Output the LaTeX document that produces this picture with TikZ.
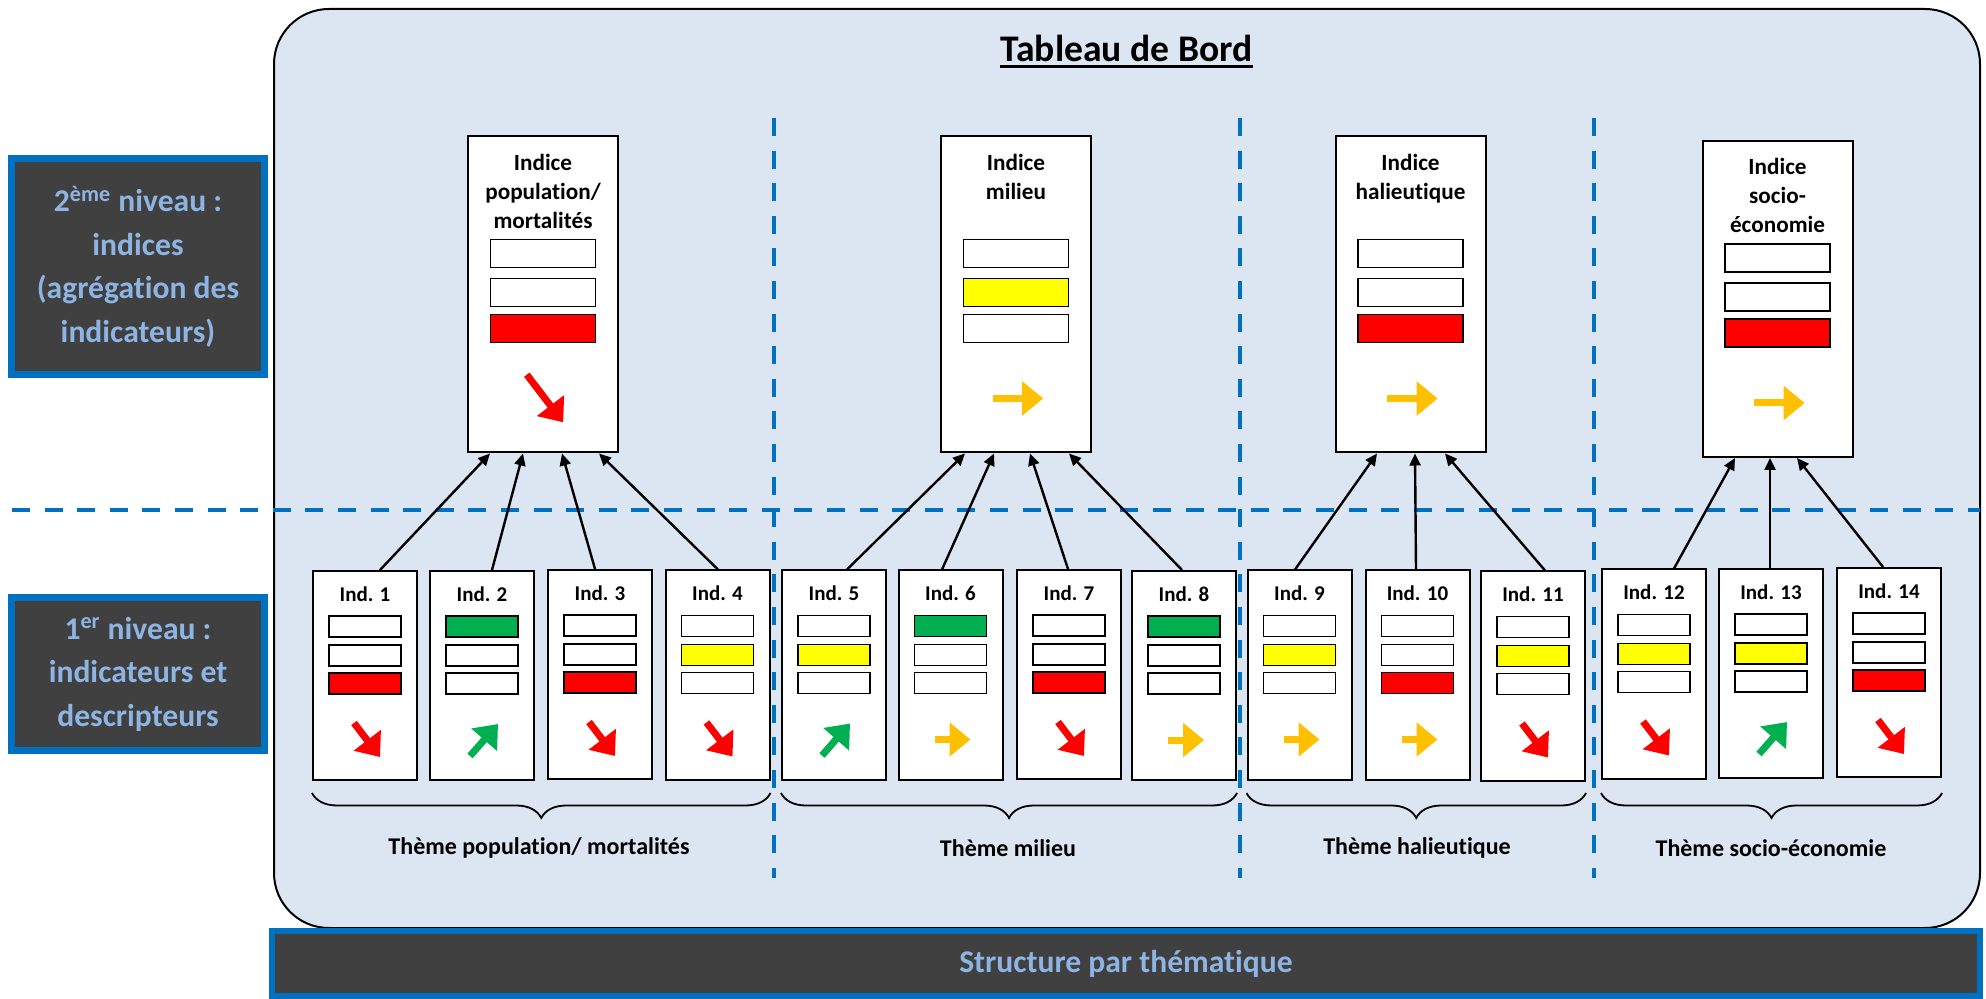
\documentclass[tikz,border=0pt]{standalone}
\usepackage{fontspec}
\setmainfont{Carlito}[Ligatures=NoCommon]
\usetikzlibrary{arrows.meta,calc,decorations.pathreplacing}

\definecolor{panel}{HTML}{DCE6F2}
\definecolor{frameblue}{HTML}{0070C0}
\definecolor{darkfill}{HTML}{404040}
\definecolor{paletxt}{HTML}{8DB4E2}
\definecolor{tred}{HTML}{FF0000}
\definecolor{tgreen}{HTML}{00B050}
\definecolor{torange}{HTML}{FFC000}
\definecolor{tyellow}{HTML}{FFFF00}

% one indicator card: name, x, y, label, bar colours (top, middle, bottom), trend pic
\newcommand\indcard[8]{%
  \node[indcard] (#1) at (#2,#3) {};
  \node[indlabel] (#1t) at ($(#1.north)+(0,24)$) {#4};
  \node[sbar, fill=#5] (#1a) at ($(#1.north)+(0,56.5)$) {};
  \node[sbar, fill=#6] (#1b) at ($(#1.north)+(0,85.5)$) {};
  \node[sbar, fill=#7] (#1c) at ($(#1.north)+(0,113.5)$) {};
  \pic at ($(#1.south)+(2,-41)$) {#8};
}
% one index card: name, x, y, label, bar colours, trend pic
\newcommand\idxcard[8]{%
  \node[idxcard] (#1) at (#2,#3) {};
  \node[idxlabel] (#1t) at ($(#1.north)+(0,18)$) {#4};
  \node[lbar, fill=#5] (#1a) at ($(#1.north)+(0,118)$) {};
  \node[lbar, fill=#6] (#1b) at ($(#1.north)+(0,157)$) {};
  \node[lbar, fill=#7] (#1c) at ($(#1.north)+(0,193)$) {};
  \pic[scale=1.4] at ($(#1.south)+(2,-55)$) {#8};
}

\begin{document}
\begin{tikzpicture}[x=0.5pt,y=-0.5pt,
  indcard/.style={draw, line width=1pt, fill=white, minimum width=52pt, minimum height=104.5pt, inner sep=0pt},
  idxcard/.style={draw, line width=1pt, fill=white, minimum width=75pt, minimum height=158pt, inner sep=0pt},
  sbar/.style={draw, line width=0.9pt, minimum width=36pt, minimum height=10.5pt, inner sep=0pt},
  lbar/.style={draw, line width=0.9pt, minimum width=52.5pt, minimum height=14pt, inner sep=0pt},
  indlabel/.style={inner sep=0pt, font=\fontsize{10.5}{12}\selectfont\bfseries},
  idxlabel/.style={anchor=north, inner sep=0pt, align=center, font=\fontsize{11.6}{14.5}\selectfont\bfseries},
  themelabel/.style={inner sep=0pt, font=\fontsize{12}{14}\selectfont\bfseries},
  levelbox/.style={draw=frameblue, line width=3.5pt, fill=darkfill, text=paletxt, inner sep=0pt,
    align=center, font=\fontsize{15.8}{21.8}\selectfont\bfseries},
  link/.style={line width=1.2pt, -{Triangle[length=6pt,width=5.5pt]}},
  fat/.style={line width=3.5pt, -{Triangle[length=10.5pt,width=16.5pt]}},
  dashline/.style={frameblue, line width=2pt, dash pattern=on 9pt off 7.3pt},
  themebrace/.style={line width=0.9pt, decorate, decoration={brace, mirror, amplitude=12.5pt}},
  tdown/.pic={\draw[fat, tred] (-13,-17) -- (13,17);},
  tup/.pic={\draw[fat, tgreen] (-14,16) -- (14,-16);},
  tflat/.pic={\draw[fat, torange] (-18,0) -- (18,0);}
]
\useasboundingbox (0,0) rectangle (1986,999);

% dashboard panel
\path[draw=black, line width=1pt, fill=panel, rounded corners=27.5pt] (274,9) rectangle (1980,928);

% bottom banner
\node[levelbox, line width=3pt, minimum width=854pt, minimum height=32.5pt,
      font=\fontsize{15.8}{18}\selectfont\bfseries] (banner) at (1126,963.5) {Structure par thématique};

% level boxes on the left
\node[levelbox, minimum width=126.5pt, minimum height=108pt] (lvl2) at (138,266.5)
  {2\textsuperscript{ème} niveau :\\ indices\\ (agrégation des\\ indicateurs)};
\node[levelbox, minimum width=126.5pt, minimum height=76.5pt] (lvl1) at (138,674)
  {1\textsuperscript{er} niveau :\\ indicateurs et\\ descripteurs};

% separators
\draw[dashline] (12,510) -- (1980,510);
\draw[dashline] (774,118) -- (774,878);
\draw[dashline] (1240,118) -- (1240,878);
\draw[dashline] (1594,118) -- (1594,878);

% title
\node[anchor=base, inner sep=0pt, font=\fontsize{18.8}{22}\selectfont\bfseries] (title) at (1126.5,62) {Tableau de Bord};
\draw[line width=1.5pt] ([yshift=-2.5pt]title.base west) -- ([yshift=-2.5pt]title.base east);

% index cards
\idxcard{A}{543}{294.5}{Indice\\population/\\mortalités}{white}{white}{tred}{tdown}
\idxcard{B}{1016}{294.5}{Indice\\milieu}{white}{tyellow}{white}{tflat}
\idxcard{C}{1410.5}{294.5}{Indice\\halieutique}{white}{white}{tred}{tflat}
\idxcard{D}{1777.5}{299}{Indice\\socio-\\économie}{white}{white}{tred}{tflat}

% indicator cards
\indcard{i1}{365}{675.5}{Ind. 1}{white}{white}{tred}{tdown}
\indcard{i2}{482}{675.5}{Ind. 2}{tgreen}{white}{white}{tup}
\indcard{i3}{600}{674.5}{Ind. 3}{white}{white}{tred}{tdown}
\indcard{i4}{717.5}{675}{Ind. 4}{white}{tyellow}{white}{tdown}
\indcard{i5}{834}{675}{Ind. 5}{white}{tyellow}{white}{tup}
\indcard{i6}{950.5}{675}{Ind. 6}{tgreen}{white}{white}{tflat}
\indcard{i7}{1069}{674.5}{Ind. 7}{white}{white}{tred}{tdown}
\indcard{i8}{1184}{675.5}{Ind. 8}{tgreen}{white}{white}{tflat}
\indcard{i9}{1299.5}{675}{Ind. 9}{white}{tyellow}{white}{tflat}
\indcard{i10}{1417.5}{675}{Ind. 10}{white}{white}{tred}{tflat}
\indcard{i11}{1533}{676}{Ind. 11}{white}{tyellow}{white}{tdown}
\indcard{i12}{1654}{674}{Ind. 12}{white}{tyellow}{white}{tdown}
\indcard{i13}{1771}{673.5}{Ind. 13}{white}{tyellow}{white}{tup}
\indcard{i14}{1889}{672.5}{Ind. 14}{white}{white}{tred}{tdown}

% aggregation links
\draw[link] ($(i1.north)+(15,0)$) -- ($(A.south)+(-53,0)$);
\draw[link] ($(i2.north)+(10,0)$) -- ($(A.south)+(-20,0)$);
\draw[link] ($(i3.north)+(-5,0)$) -- ($(A.south)+(19,0)$);
\draw[link] ($(i4.north)+(0.5,0)$) -- ($(A.south)+(56,0)$);
\draw[link] ($(i5.north)+(13,0)$) -- ($(B.south)+(-51,0)$);
\draw[link] ($(i6.north)+(-8.5,0)$) -- ($(B.south)+(-22,0)$);
\draw[link] ($(i7.north)+(-1,0)$) -- ($(B.south)+(14,0)$);
\draw[link] ($(i8.north)+(-2,0)$) -- ($(B.south)+(53,0)$);
\draw[link] ($(i9.north)+(-4.5,0)$) -- ($(C.south)+(-33.5,0)$);
\draw[link] ($(i10.north)+(-1.5,0)$) -- ($(C.south)+(4.5,0)$);
\draw[link] ($(i11.north)+(12,0)$) -- ($(C.south)+(34.5,0)$);
\draw[link] ($(i12.north)+(20,0)$) -- ($(D.south)+(-42.5,0)$);
\draw[link] ($(i13.north)+(-1,0)$) -- ($(D.south)+(-7.5,0)$);
\draw[link] ($(i14.north)+(-6,0)$) -- ($(D.south)+(19.5,0)$);

% theme braces and captions
\draw[themebrace] (i1.south west |- 0,793) -- (i4.south east |- 0,793);
\draw[themebrace] (i5.south west |- 0,793) -- (i8.south east |- 0,793);
\draw[themebrace] (i9.south west |- 0,793) -- (i11.south east |- 0,793);
\draw[themebrace] (i12.south west |- 0,793) -- (i14.south east |- 0,793);
\node[themelabel] (th1) at (539,848) {Thème population/ mortalités};
\node[themelabel] (th2) at (1008,848) {Thème milieu};
\node[themelabel] (th3) at (1417,848) {Thème halieutique};
\node[themelabel] (th4) at (1771,848) {Thème socio-économie};
\end{tikzpicture}
\end{document}
